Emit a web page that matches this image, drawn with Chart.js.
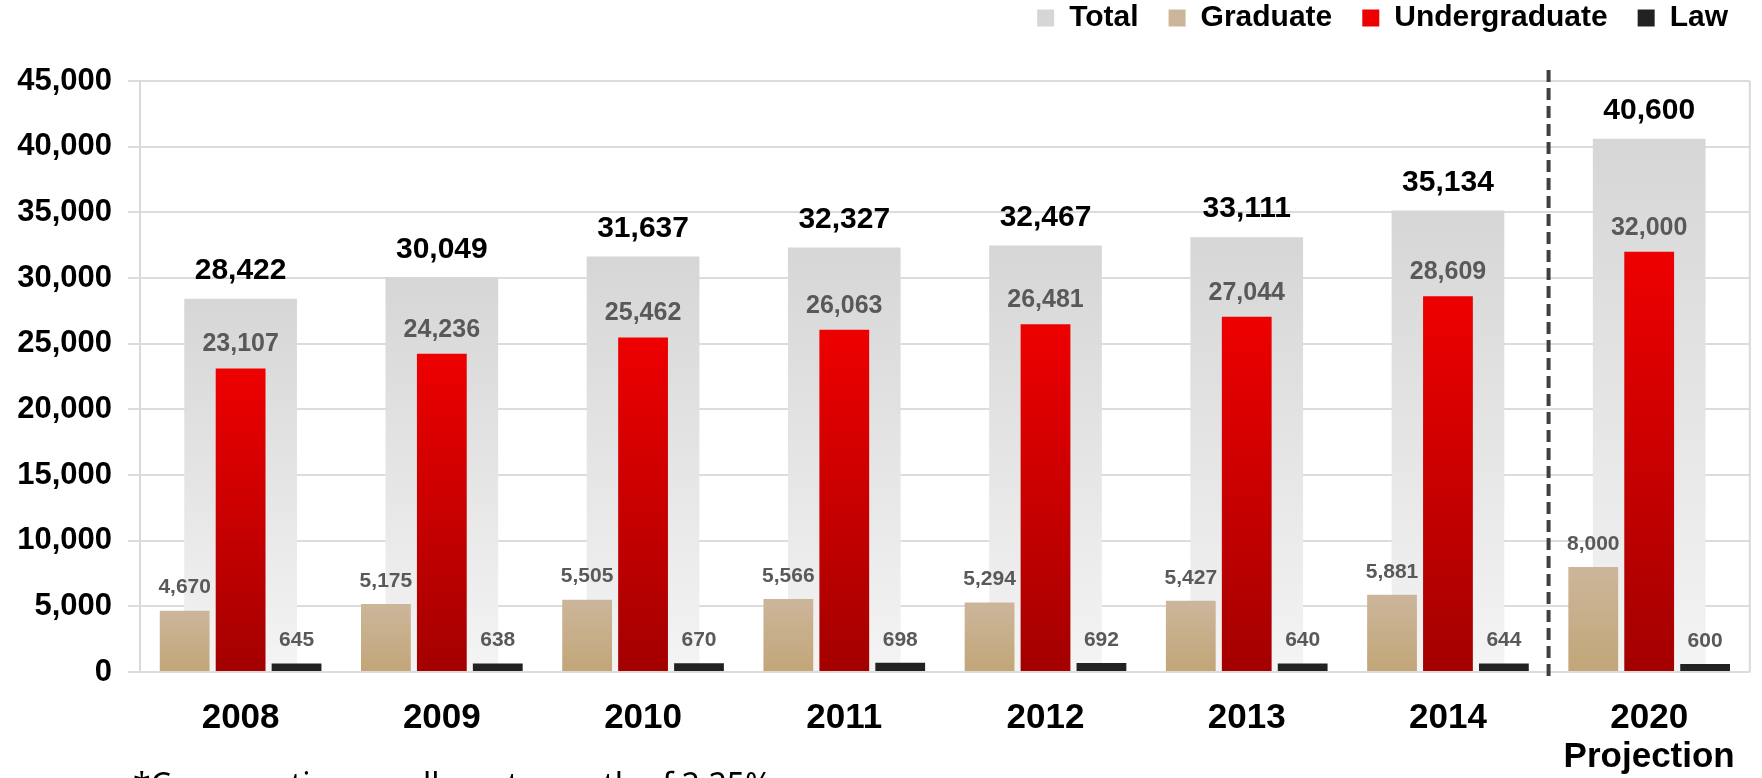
<!DOCTYPE html>
<html><head><meta charset="utf-8">
<script src="https://cdn.jsdelivr.net/npm/chart.js@4/dist/chart.umd.min.js"></script>
<style>
html,body{margin:0;padding:0;background:#fff;overflow:hidden;}
#wrap{position:relative;width:1762px;height:778px;}
#note{position:absolute;left:133px;top:768px;font-family:"Noto Sans";font-size:32px;line-height:32px;color:#000;white-space:nowrap;}
</style></head><body>
<div id="wrap"><canvas id="c"></canvas><div id="note">*Conservative enrollment growth of 2.25%</div></div>
<script>
const categories = ["2008","2009","2010","2011","2012","2013","2014",["2020","Projection"]];
const seriesNames = ["Total","Graduate","Undergraduate","Law"];
const totalValues = [28422,30049,31637,32327,32467,33111,35134,40600];
const graduateValues = [4670,5175,5505,5566,5294,5427,5881,8000];
const undergraduateValues = [23107,24236,25462,26063,26481,27044,28609,32000];
const lawValues = [645,638,670,698,692,640,644,600];
const yMin = 0, yMax = 45000, yStep = 5000;

const FONT = "'Liberation Sans', Arial, sans-serif";

function vGrad(top, bottom, solid){
  return function(ctx){
    const chart = ctx.chart;
    if (ctx.type !== 'data' || !chart.chartArea || !chart.scales.y) return solid;
    const y = chart.scales.y;
    const yt = y.getPixelForValue(ctx.raw);
    const yb = y.getPixelForValue(0);
    if (!isFinite(yt) || !isFinite(yb) || Math.abs(yb - yt) < 1) return solid;
    const g = chart.ctx.createLinearGradient(0, yt, 0, yb);
    g.addColorStop(0, top); g.addColorStop(1, bottom);
    return g;
  };
}

const labelStyles = [
  {size:30, color:'#000000', offset:28},
  {size:21, color:'#595959', offset:23},
  {size:25, color:'#595959', offset:24},
  {size:21, color:'#595959', offset:23}
];

const valueLabels = {
  id:'valueLabels',
  afterDatasetsDraw(chart){
    const ctx = chart.ctx;
    ctx.save();
    ctx.textAlign = 'center';
    ctx.textBaseline = 'middle';
    chart.data.datasets.forEach((ds, i) => {
      const meta = chart.getDatasetMeta(i);
      const st = labelStyles[i];
      ctx.font = "bold " + st.size + "px " + FONT;
      ctx.fillStyle = st.color;
      meta.data.forEach((bar, j) => {
        ctx.fillText(ds.data[j].toLocaleString('en-US'), bar.x, bar.y - st.offset);
      });
    });
    ctx.restore();
  }
};

const decorations = {
  id:'decorations',
  beforeInit(chart){
    const lg = chart.legend;
    if (lg) {
      const fit = lg.fit;
      lg.fit = function(){ fit.call(this); this.height = 108; };
    }
  },
  afterDraw(chart){
    const ctx = chart.ctx, a = chart.chartArea, x = chart.scales.x;
    ctx.save();
    ctx.strokeStyle = '#d9d9d9'; ctx.lineWidth = 2;
    ctx.beginPath(); ctx.moveTo(a.right, a.top); ctx.lineTo(a.right, a.bottom); ctx.stroke();
    const sx = (x.getPixelForValue(6) + x.getPixelForValue(7)) / 2;
    ctx.strokeStyle = '#404040'; ctx.lineWidth = 4; ctx.setLineDash([12,6]);
    ctx.beginPath(); ctx.moveTo(sx, a.top - 11); ctx.lineTo(sx, a.bottom + 10); ctx.stroke();
    ctx.restore();
  }
};

new Chart(document.getElementById('c'), {
  type:'bar',
  data:{
    labels: categories,
    datasets:[
      {label:seriesNames[0], data:totalValues, grouped:false, order:1,
       categoryPercentage:0.8, barPercentage:0.7,
       backgroundColor: vGrad('#d6d6d6','#f4f4f4','#ececec')},
      {label:seriesNames[1], data:graduateValues, order:0,
       categoryPercentage:0.834, barPercentage:0.89,
       backgroundColor: vGrad('#ccb69b','#c2a678','#c8b08c')},
      {label:seriesNames[2], data:undergraduateValues, order:0,
       categoryPercentage:0.834, barPercentage:0.89,
       backgroundColor: vGrad('#ee0000','#a30000','#dd0000')},
      {label:seriesNames[3], data:lawValues, order:0,
       categoryPercentage:0.834, barPercentage:0.89,
       backgroundColor:'#222222'}
    ]
  },
  options:{
    responsive:true, maintainAspectRatio:false, animation:false,
    layout:{padding:{top:-27, right:4, left:0, bottom:0}},
    plugins:{
      tooltip:{enabled:false},
      legend:{
        position:'top', align:'end',
        labels:{
          boxWidth:17, boxHeight:17, padding:30, color:'#000',
          font:{family:FONT, size:30, weight:'bold'},
          sort:(a,b) => a.datasetIndex - b.datasetIndex
        }
      }
    },
    scales:{
      x:{
        grid:{display:false, drawTicks:false},
        border:{display:false},
        ticks:{color:'#000', padding:27, maxRotation:0, autoSkip:false,
               font:{family:FONT, size:35, weight:'bold', lineHeight:1.114}},
        afterFit(s){ s.height = 106; }
      },
      y:{
        min:yMin, max:yMax,
        grid:{color:'#dcdcdc', lineWidth:2, tickLength:12, tickColor:'#dcdcdc'},
        border:{display:true, color:'#d9d9d9', width:2},
        ticks:{stepSize:yStep, color:'#000', padding:16,
               font:{family:FONT, size:31, weight:'bold'},
               callback:v => v.toLocaleString('en-US')},
        afterFit(s){ s.width = 140; }
      }
    }
  },
  plugins:[valueLabels, decorations]
});
</script>
</body></html>
